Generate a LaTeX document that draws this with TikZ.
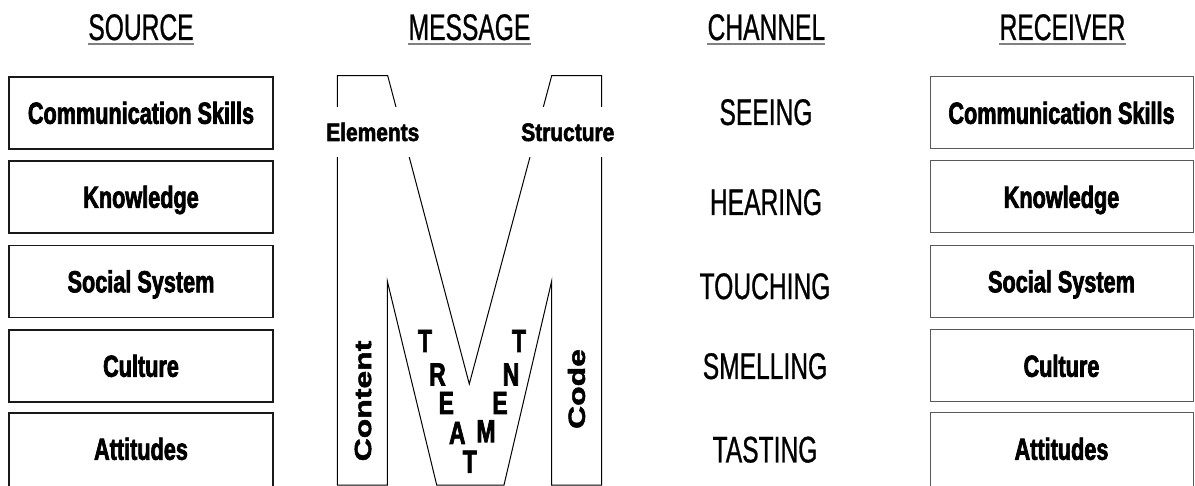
\documentclass[tikz,border=0pt]{standalone}
\usepackage{fontspec}
% condensed / extended cuts of one sans family
\newfontfamily\titlefont[FakeStretch=0.665,FakeBold=0.7]{Liberation Sans}
\newfontfamily\boldnarrow[FakeStretch=0.71,FakeBold=2.2]{Liberation Sans}
\newfontfamily\boldmid[FakeStretch=0.83,FakeBold=2.2]{Liberation Sans}
\newfontfamily\boldwide[FakeStretch=1.36,FakeBold=2]{Liberation Sans}

\begin{document}
\begin{tikzpicture}[x=1pt,y=-1pt,
  heading/.style={font=\titlefont\fontsize{37}{37}\selectfont, inner sep=0pt, anchor=base},
  uline/.style={line width=1.5pt, black!50},
  srcbox/.style={draw=black!90, line width=1.4pt, minimum width=264pt, minimum height=72pt,
    inner sep=0pt, text height=21.6pt, text depth=0pt,
    font=\boldnarrow\bfseries\fontsize{30.5}{31}\selectfont},
  rcvbox/.style={srcbox, draw=black!65, line width=1pt, minimum width=263pt},
  lastbox/.style={minimum height=76pt, text depth=4pt},
  sense/.style={font=\titlefont\fontsize{37}{37}\selectfont, inner sep=0pt,
    text height=26.5pt, text depth=0pt},
  mline/.style={line width=1pt, black, line join=miter},
  mlabel/.style={font=\boldmid\bfseries\fontsize{25.2}{26}\selectfont, fill=white,
    inner xsep=0pt, inner ysep=0pt, minimum height=50pt, text height=18pt, text depth=0pt},
  sidelabel/.style={font=\boldwide\bfseries\fontsize{23.5}{24}\selectfont, inner sep=0pt,
    rotate=90, text height=16.8pt, text depth=0pt},
  letter/.style={font=\boldnarrow\bfseries\fontsize{32}{32}\selectfont, inner sep=0pt,
    text height=22.9pt, text depth=0pt}
]
\useasboundingbox (0,0) rectangle (1195,486);

% ---- column headings ----
\node[heading] (hsrc) at (141,40) {SOURCE};
\node[heading] (hmsg) at (469.5,40) {MESSAGE};
\node[heading] (hch)  at (766.4,40) {CHANNEL};
\node[heading] (hrcv) at (1062.5,40) {RECEIVER};
\foreach \h in {hsrc,hmsg,hch,hrcv}
  \draw[uline] ([yshift=-4pt]\h.base west) -- ([yshift=-4pt]\h.base east);

% ---- source boxes ----
\node[srcbox] (s1) at (141,113) {Communication Skills};
\node[srcbox] (s2) at (141,197) {Knowledge};
\node[srcbox] (s3) at (141,281.5) {Social System};
\node[srcbox] (s4) at (141,366) {Culture};
\node[srcbox,lastbox] (s5) at (141,451) {Attitudes};

% ---- receiver boxes ----
\node[rcvbox] (r1) at (1061.5,113) {Communication Skills};
\node[rcvbox] (r2) at (1061.5,197) {Knowledge};
\node[rcvbox] (r3) at (1061.5,281.5) {Social System};
\node[rcvbox] (r4) at (1061.5,366) {Culture};
\node[rcvbox,lastbox] (r5) at (1061.5,451) {Attitudes};

% ---- channel senses ----
\node[sense] (c1) at (766,111.7) {SEEING};
\node[sense] (c2) at (766,201.7) {HEARING};
\node[sense] (c3) at (765,285.8) {TOUCHING};
\node[sense] (c4) at (765,365.7) {SMELLING};
\node[sense] (c5) at (765,449.2) {TASTING};

% ---- the big letter M ----
\draw[mline] (337.3,485) -- (337.3,75.7) -- (387.7,75.7) -- (469.3,384)
  -- (551.7,75.7) -- (601.7,75.7) -- (601.7,485) -- (551.7,485) -- (551.7,281)
  -- (504,485) -- (436.7,485) -- (387.3,281) -- (387.3,485) -- cycle;

\node[mlabel] (elem) at (372.8,132) {Elements};
\node[mlabel] (struc) at (567.8,132) {Structure};

\node[sidelabel] (cont) at (362.7,401) {Content};
\node[sidelabel] (code) at (576.5,389) {Code};

% TREATMENT written down and up the V
\node[letter] (t1) at (425,340.5) {T};
\node[letter] (t2) at (437.5,374) {R};
\node[letter] (t3) at (446.3,402.5) {E};
\node[letter] (t4) at (457.3,432.5) {A};
\node[letter] (t5) at (469.7,461.3) {T};
\node[letter] (t6) at (486,430.7) {M};
\node[letter] (t7) at (500,402.5) {E};
\node[letter] (t8) at (511,374) {N};
\node[letter] (t9) at (519,340.5) {T};
\end{tikzpicture}
\end{document}
